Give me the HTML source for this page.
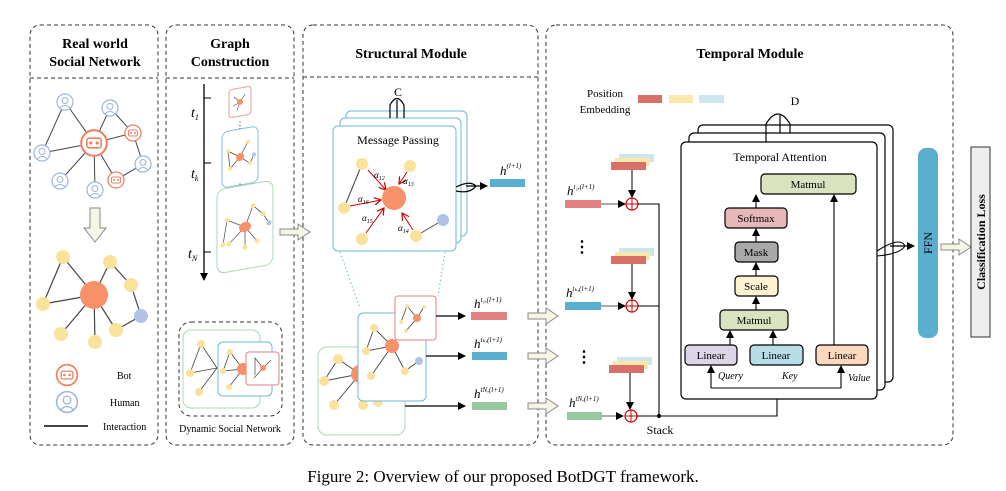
<!DOCTYPE html>
<html><head><meta charset="utf-8"><style>
body{margin:0;background:#fff}
svg{display:block;font-family:"Liberation Serif",serif}
</style></head><body>
<svg width="1006" height="491" viewBox="0 0 1006 491" xmlns="http://www.w3.org/2000/svg">
<defs>
<marker id="ar" markerWidth="8" markerHeight="8" refX="7" refY="4" orient="auto" markerUnits="userSpaceOnUse"><path d="M0,0 L8,4 L0,8 Z" fill="#000"/></marker>
<marker id="rr" markerWidth="8" markerHeight="8" refX="7" refY="4" orient="auto" markerUnits="userSpaceOnUse"><path d="M0,0 L7,4 L0,8" fill="none" stroke="#c00" stroke-width="1.2"/></marker>
<g id="human"><circle r="8" fill="#fff" stroke="#9db4e0" stroke-width="1.2"/><circle cy="-1.5" r="3" fill="none" stroke="#9db4e0"/><path d="M-5,6 Q0,1 5,6" fill="none" stroke="#9db4e0"/></g>
<g id="bot"><circle r="8" fill="#fff" stroke="#f08060" stroke-width="1.3"/><rect x="-4.5" y="-3" width="9" height="6" rx="1.5" fill="none" stroke="#f08060"/><circle cx="-2" cy="0" r="1" fill="#f08060"/><circle cx="2" cy="0" r="1" fill="#f08060"/></g>
<g id="barrow"><path d="M0,-3 L18,-3 L18,-8 L30,0 L18,8 L18,3 L0,3 Z" fill="#f7f6e6" stroke="#888" stroke-width="1"/></g>
</defs>
<g fill="none" stroke="#333" stroke-width="1" stroke-dasharray="4,3">
<rect x="30" y="25" width="128" height="420" rx="10"/><line x1="30" y1="78" x2="158" y2="78"/>
<rect x="166" y="25" width="128" height="420" rx="10"/><line x1="166" y1="78" x2="294" y2="78"/>
<rect x="303" y="25" width="235" height="420" rx="10"/><line x1="303" y1="77" x2="538" y2="77"/>
<rect x="546" y="25" width="407" height="420" rx="10"/>
<rect x="179" y="322" width="103" height="94" rx="12"/>
</g>
<g font-weight="bold" font-size="14" text-anchor="middle" fill="#000">
<text x="95" y="48">Real world</text><text x="95" y="66">Social Network</text>
<text x="230" y="48">Graph</text><text x="230" y="66">Construction</text>
<text x="411" y="58">Structural Module</text>
<text x="750" y="58">Temporal Module</text>
</g>
<!-- panel 1 -->
<path fill="none" stroke="#444" stroke-width="1" d="M65,102 L94,143 M65,102 L42,153 M42,153 L94,143 M110,108 L94,143 M110,108 L133,133 M133,133 L94,143 M133,133 L143,164 M94,143 L60,181 M94,143 L95,190 M94,143 L116,180 M116,180 L143,164"/>
<use href="#human" x="65" y="102"/><use href="#human" x="110" y="108"/><use href="#human" x="42" y="153"/><use href="#human" x="60" y="181"/><use href="#human" x="95" y="190"/><use href="#human" x="143" y="164"/>
<g transform="translate(94,143) scale(1.6)"><use href="#bot"/></g>
<use href="#bot" x="133" y="133"/><use href="#bot" x="116" y="180"/>
<path d="M90,208 L100,208 L100,228 L106,228 L95,242 L84,228 L90,228 Z" fill="#f7f6e6" stroke="#888"/>
<path fill="none" stroke="#444" stroke-width="1.2" d="M63,257 L43,304 M63,257 L94,295 M110,262 L94,295 M110,262 L131,285 M131,285 L141,316 M43,304 L94,295 M94,295 L61,334 M94,295 L95,342 M94,295 L116,330 M116,330 L141,316"/>
<g fill="#fbe29a"><circle cx="63" cy="257" r="7"/><circle cx="110" cy="262" r="7"/><circle cx="131" cy="285" r="7"/><circle cx="43" cy="304" r="7"/><circle cx="61" cy="334" r="7"/><circle cx="95" cy="342" r="7"/><circle cx="116" cy="330" r="7"/></g>
<circle cx="141" cy="316" r="7" fill="#aec3e6"/><circle cx="94" cy="295" r="14" fill="#f8906a"/>
<g transform="translate(67,375) scale(1.3)"><use href="#bot"/></g><g transform="translate(67,402) scale(1.3)"><use href="#human"/></g>
<line x1="44" y1="426" x2="88" y2="426" stroke="#444" stroke-width="2"/>
<g font-size="10" fill="#000"><text x="117" y="379">Bot</text><text x="110" y="406">Human</text><text x="103" y="430">Interaction</text></g>
<!-- panel 2 -->
<line x1="204" y1="84" x2="204" y2="280" stroke="#000" stroke-width="1.3" marker-end="url(#ar)"/>
<g stroke="#000"><line x1="204" y1="98" x2="211" y2="98"/><line x1="204" y1="163" x2="211" y2="163"/><line x1="204" y1="252" x2="211" y2="252"/></g>
<g font-size="14" font-style="italic"><text x="191" y="117">t<tspan font-size="8" dy="3">1</tspan></text><text x="191" y="178">t<tspan font-size="8" dy="3">k</tspan></text><text x="188" y="258">t<tspan font-size="8" dy="3">N</tspan></text></g>
<g transform="translate(240,102) skewY(-10)"><rect x="-11" y="-14" width="22" height="28" rx="3" fill="#fff" stroke="#e8a0a0"/><path fill="none" d="M0,0 L-6,-6 M0,0 L-7,3 M0,0 L5,-7 M0,0 L-3,8" stroke="#444" stroke-width=".6"/><circle r="3" fill="#f8906a"/></g>
<text x="240" y="128" font-size="9" text-anchor="middle">⋮</text>
<g transform="translate(240,157) skewY(-10)"><rect x="-18" y="-28" width="36" height="56" rx="6" fill="#fff" stroke="#80c0dc"/><path fill="none" d="M-12,-8 L0,0 L-10,10 M0,0 L8,-14 M0,0 L10,8 L14,0 M-12,-8 L-10,10" stroke="#444" stroke-width=".7"/><circle r="4" fill="#f8906a"/><g fill="#fbe29a"><circle cx="-12" cy="-8" r="2"/><circle cx="-10" cy="10" r="2"/><circle cx="8" cy="-14" r="2"/><circle cx="10" cy="8" r="2"/></g><circle cx="14" cy="0" r="2" fill="#aec3e6"/></g>
<text x="240" y="190" font-size="9" text-anchor="middle">⋮</text>
<g transform="translate(245,227) skewY(-10)"><rect x="-28" y="-42" width="56" height="84" rx="8" fill="#fff" stroke="#a8d8b0"/><path fill="none" d="M-18,-10 L0,0 L-16,14 M0,0 L8,-20 L18,-10 L24,0 M0,0 L12,16 M0,0 L0,20 M-18,-10 L-22,14" stroke="#444" stroke-width=".7"/><ellipse rx="6" ry="5" fill="#f8906a"/><g fill="#fbe29a"><circle cx="-18" cy="-10" r="2.5"/><circle cx="-16" cy="14" r="2.5"/><circle cx="8" cy="-20" r="2.5"/><circle cx="18" cy="-10" r="2.5"/><circle cx="12" cy="16" r="2.5"/><circle cx="0" cy="20" r="2.5"/><circle cx="-22" cy="14" r="2.5"/></g><circle cx="24" cy="0" r="2.5" fill="#aec3e6"/></g>
<rect x="183" y="330" width="77" height="78" rx="8" fill="#fff" stroke="#a8d8b0"/>
<path fill="none" d="M201,344 L190,373 L217,368 M201,344 L217,368 M217,368 L199,392" stroke="#444" stroke-width=".8"/>
<g fill="#fbe29a"><circle cx="201" cy="344" r="4"/><circle cx="190" cy="373" r="4"/><circle cx="199" cy="392" r="4"/></g>
<rect x="218" y="342" width="54" height="54" rx="5" fill="#fff" stroke="#6ab8d8"/>
<path fill="none" d="M230,352 L243,369 L223,371 M230,352 L223,371 M243,369 L229,387" stroke="#444" stroke-width=".8"/>
<g fill="#fbe29a"><circle cx="230" cy="352" r="3"/><circle cx="223" cy="371" r="3"/><circle cx="229" cy="387" r="3"/></g><circle cx="243" cy="369" r="6" fill="#f8906a"/>
<rect x="246" y="352" width="33" height="33" rx="3" fill="#fff" stroke="#e08080"/>
<path fill="none" d="M263,368 L255,358 L255,375 M263,368 L271,360 M263,368 L254,378" stroke="#444" stroke-width=".7"/><circle cx="263" cy="368" r="3" fill="#f8906a"/>
<text x="230" y="432" font-size="10" text-anchor="middle">Dynamic Social Network</text>
<use href="#barrow" x="280" y="232"/>
<!-- panel 3 -->
<rect x="346" y="111" width="121" height="125" rx="5" fill="#fff" stroke="#6ab8d8"/>
<rect x="340" y="118" width="121" height="125" rx="5" fill="#fff" stroke="#6ab8d8"/>
<rect x="333" y="126" width="123" height="125" rx="5" fill="#fff" stroke="#6ab8d8"/>
<path d="M390,118 L390,105 Q397,92 404,105 L404,118 M397,100 L397,118" fill="none" stroke="#000" stroke-width="1.2"/>
<text x="398" y="96" font-size="12" text-anchor="middle">C</text>
<text x="398" y="144" font-size="12" text-anchor="middle">Message Passing</text>
<path fill="none" d="M362,164 L344,208 M416,236 L443,220" stroke="#444"/>
<g stroke="#c00" stroke-width="1" marker-end="url(#rr)"><line x1="368" y1="170" x2="386" y2="190"/><line x1="407" y1="172" x2="399" y2="184"/><line x1="350" y1="206" x2="381" y2="200"/><line x1="366" y1="233" x2="384" y2="208"/><line x1="413" y1="230" x2="402" y2="213"/></g>
<g fill="#fbe29a"><circle cx="362" cy="164" r="6"/><circle cx="410" cy="166" r="6"/><circle cx="344" cy="208" r="6"/><circle cx="362" cy="239" r="6"/><circle cx="416" cy="236" r="6"/></g>
<circle cx="443" cy="220" r="6" fill="#aec3e6"/><circle cx="394" cy="198" r="12" fill="#f8906a"/>
<g font-size="9" font-style="italic"><text x="374" y="178">α<tspan font-size="6" dy="2">12</tspan></text><text x="403" y="184">α<tspan font-size="6" dy="2">13</tspan></text><text x="358" y="202">α<tspan font-size="6" dy="2">16</tspan></text><text x="362" y="221">α<tspan font-size="6" dy="2">15</tspan></text><text x="398" y="231">α<tspan font-size="6" dy="2">14</tspan></text></g>
<path d="M456,187 Q470,180 476,186 Q470,194 456,191" fill="none" stroke="#000" stroke-width="1.2"/>
<line x1="466" y1="186" x2="487" y2="186" stroke="#000" stroke-width="1.3" marker-end="url(#ar)"/>
<rect x="490" y="179" width="35" height="8" fill="#5aaed0"/>
<text x="500" y="175" font-size="13" font-style="italic">h<tspan font-size="7" dy="-7">(l+1)</tspan></text>
<g stroke="#6ab8d8" stroke-dasharray="1.5,2.5"><line x1="340" y1="252" x2="360" y2="308"/><line x1="445" y1="252" x2="438" y2="296"/></g>
<rect x="318" y="347" width="87" height="88" rx="9" fill="#fff" stroke="#a8d8b0"/>
<path fill="none" d="M338,359 L324,381 L360,374 M338,359 L360,374 M360,374 L334,405 M360,374 L363,405 M360,374 L378,402 L397,390" stroke="#444" stroke-width=".9"/>
<g fill="#fbe29a"><circle cx="338" cy="359" r="5"/><circle cx="324" cy="381" r="5"/><circle cx="334" cy="405" r="5"/><circle cx="363" cy="405" r="5"/><circle cx="378" cy="402" r="5"/></g><circle cx="397" cy="390" r="4" fill="#aec3e6"/><circle cx="360" cy="374" r="9" fill="#f8906a"/>
<rect x="358" y="313" width="68" height="88" rx="5" fill="#fff" stroke="#6ab8d8"/>
<path fill="none" d="M374,328 L366,351 L392,346 M374,328 L392,346 M392,346 L371,376 M392,346 L405,371 L419,361" stroke="#444" stroke-width=".9"/>
<g fill="#fbe29a"><circle cx="374" cy="328" r="4"/><circle cx="366" cy="351" r="4"/><circle cx="371" cy="376" r="4"/><circle cx="405" cy="371" r="4"/></g><circle cx="419" cy="361" r="4" fill="#aec3e6"/><circle cx="392" cy="346" r="7" fill="#f8906a"/>
<rect x="395" y="296" width="41" height="44" rx="3" fill="#fff" stroke="#e08080"/>
<path fill="none" d="M417,318 L407,306 L401,322 M417,318 L424,307 M417,318 L406,331" stroke="#444" stroke-width=".8"/>
<g fill="#fbe29a"><circle cx="407" cy="306" r="2"/><circle cx="401" cy="322" r="2"/><circle cx="424" cy="307" r="2"/><circle cx="406" cy="331" r="2"/></g><circle cx="417" cy="318" r="4" fill="#f8906a"/>
<g stroke="#000" stroke-width="1.3" marker-end="url(#ar)"><line x1="436" y1="316" x2="465" y2="316"/><line x1="426" y1="356" x2="465" y2="356"/><line x1="405" y1="406" x2="465" y2="406"/></g>
<rect x="471" y="312" width="36" height="8" fill="#e08080"/><rect x="472" y="352" width="35" height="8" fill="#5aaed0"/><rect x="472" y="402" width="35" height="8" fill="#98c8a0"/>
<g font-size="13" font-style="italic"><text x="474" y="308">h<tspan font-size="7" dy="-6">t₁,(l+1)</tspan></text><text x="474" y="348">h<tspan font-size="7" dy="-6">tₖ,(l+1)</tspan></text><text x="474" y="398">h<tspan font-size="7" dy="-6">tN,(l+1)</tspan></text></g>
<use href="#barrow" x="528" y="316"/><use href="#barrow" x="528" y="356"/><use href="#barrow" x="528" y="406"/>
<!-- panel 4 -->
<g font-size="11" text-anchor="middle"><text x="605" y="97">Position</text><text x="605" y="113">Embedding</text></g>
<rect x="638" y="95" width="24" height="8" fill="#d87068"/><rect x="669" y="95" width="24" height="8" fill="#fbe7a8"/><rect x="699" y="95" width="25" height="8" fill="#cce6ee"/>
<g id="emb1"><rect x="619" y="154" width="35" height="8" fill="#cce6ee"/><rect x="615" y="158" width="35" height="8" fill="#fbe7a8"/><rect x="611" y="162" width="35" height="8" fill="#d87068"/></g>
<use href="#emb1" y="94"/><use href="#emb1" x="-2" y="203"/>
<g stroke="#000" stroke-width="1"><line x1="632" y1="170" x2="632" y2="197" marker-end="url(#ar)"/><line x1="632" y1="264" x2="632" y2="299" marker-end="url(#ar)"/><line x1="630" y1="373" x2="630" y2="409" marker-end="url(#ar)"/></g>
<rect x="565" y="200" width="36" height="8" fill="#e08080"/><rect x="565" y="302" width="36" height="8" fill="#5aaed0"/><rect x="567" y="412" width="35" height="8" fill="#98c8a0"/>
<g font-size="13" font-style="italic"><text x="567" y="195">h<tspan font-size="7" dy="-6">t₁,(l+1)</tspan></text><text x="566" y="297">h<tspan font-size="7" dy="-6">tₖ,(l+1)</tspan></text><text x="569" y="407">h<tspan font-size="7" dy="-6">tN,(l+1)</tspan></text></g>
<g stroke="#555" stroke-width="1" marker-end="url(#ar)"><line x1="601" y1="204" x2="625" y2="204"/><line x1="601" y1="306" x2="625" y2="306"/><line x1="602" y1="416" x2="623" y2="416"/></g>
<g fill="#fff" stroke="#c00" stroke-width="1.2"><circle cx="632" cy="204" r="6"/><circle cx="632" cy="306" r="6"/><circle cx="631" cy="416" r="6"/></g>
<path fill="none" stroke="#c00" stroke-width="1" d="M626,204 L638,204 M632,198 L632,210 M626,306 L638,306 M632,300 L632,312 M625,416 L637,416 M631,410 L631,422"/>
<path d="M638,204 L659,204 L659,416 M638,306 L659,306 M637,416 L777,416 L777,367" fill="none" stroke="#000" stroke-width="1.1"/>
<circle cx="659" cy="416" r="2" fill="#000"/>
<text x="660" y="434" font-size="12" text-anchor="middle">Stack</text>
<g font-size="16" font-weight="bold" text-anchor="middle"><text x="582" y="252">⋮</text><text x="584" y="362">⋮</text></g>
<rect x="698" y="125" width="195" height="257" rx="5" fill="#fff" stroke="#000" stroke-width="1.2"/>
<rect x="689" y="133" width="196" height="257" rx="5" fill="#fff" stroke="#000" stroke-width="1.2"/>
<rect x="681" y="142" width="196" height="257" rx="5" fill="#fff" stroke="#000" stroke-width="1.2"/>
<path d="M766,142 L766,124 Q778,104 790,124 L790,133 M780,115 L780,133" fill="none" stroke="#000" stroke-width="1.2"/>
<text x="795" y="105" font-size="12" text-anchor="middle">D</text>
<text x="780" y="161" font-size="12" text-anchor="middle">Temporal Attention</text>
<g stroke="#000" stroke-width="1.2">
<rect x="761" y="174" width="95" height="20" rx="4" fill="#d9e3c0"/>
<rect x="725" y="208" width="62" height="20" rx="4" fill="#e8b8b8"/>
<rect x="735" y="242" width="43" height="20" rx="4" fill="#a9a9a9"/>
<rect x="735" y="276" width="43" height="20" rx="4" fill="#fdf3d0"/>
<rect x="720" y="310" width="68" height="20" rx="4" fill="#d9e3c0"/>
<rect x="685" y="345" width="52" height="20" rx="4" fill="#dcd5e8"/>
<rect x="750" y="345" width="53" height="20" rx="4" fill="#b7dde8"/>
<rect x="816" y="345" width="52" height="20" rx="4" fill="#fbd8be"/>
</g>
<g font-size="11" text-anchor="middle"><text x="808" y="188">Matmul</text><text x="756" y="222">Softmax</text><text x="756" y="256">Mask</text><text x="756" y="290">Scale</text><text x="754" y="324">Matmul</text><text x="711" y="359">Linear</text><text x="776" y="359">Linear</text><text x="842" y="359">Linear</text></g>
<g stroke="#000" stroke-width="1.1" marker-end="url(#ar)"><line x1="756" y1="208" x2="756" y2="195"/><line x1="756" y1="242" x2="756" y2="229"/><line x1="756" y1="276" x2="756" y2="263"/><line x1="756" y1="310" x2="756" y2="297"/><line x1="730" y1="345" x2="730" y2="331"/><line x1="773" y1="345" x2="773" y2="331"/><line x1="834" y1="345" x2="834" y2="195"/><line x1="711" y1="388" x2="711" y2="366"/><line x1="841" y1="388" x2="841" y2="366"/></g>
<path d="M711,388 L841,388" stroke="#000" stroke-width="1.1"/>
<g font-size="10" font-style="italic"><text x="718" y="379">Query</text><text x="782" y="379">Key</text><text x="848" y="381">Value</text></g>
<path d="M877,251 Q900,236 905,246 Q900,254 877,256" fill="none" stroke="#000" stroke-width="1.1"/>
<line x1="890" y1="246" x2="914" y2="246" stroke="#000" stroke-width="1.2" marker-end="url(#ar)"/>
<rect x="918" y="148" width="20" height="190" rx="8" fill="#5aaed0"/>
<text transform="translate(932,243) rotate(-90)" font-size="12" text-anchor="middle">FFN</text>
<use href="#barrow" x="941" y="247"/>
<rect x="971" y="147" width="19" height="190" fill="#eee" stroke="#333"/>
<text transform="translate(985,242) rotate(-90)" font-size="12" font-weight="bold" text-anchor="middle">Classification Loss</text>
<text x="503" y="482" font-size="17" text-anchor="middle">Figure 2: Overview of our proposed BotDGT framework.</text>
</svg>
</body></html>
